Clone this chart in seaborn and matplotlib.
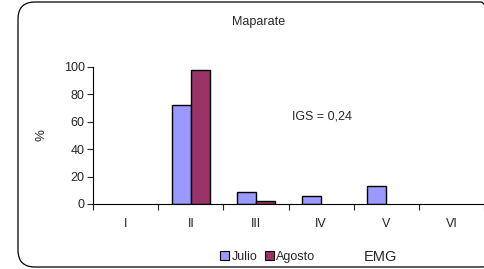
import numpy as np
import pandas as pd
import matplotlib
matplotlib.use("Agg")
import matplotlib.pyplot as plt
from matplotlib.patches import FancyBboxPatch, Patch
import seaborn as sns

# ── Data ──────────────────────────────────────────────────────────────────────
stages = ["I", "II", "III", "IV", "V", "VI"]
julio = [0, 72, 9, 5.5, 13, 0]
agosto = [0, 98, 2, 0, 0, 0]
months = ["Julio", "Agosto"]

df = pd.DataFrame({
    "EMG": stages * 2,
    "pct": julio + agosto,
    "mes": [months[0]] * len(stages) + [months[1]] * len(stages),
})

palette = {"Julio": "#9999FF", "Agosto": "#993366"}

sns.set_style("white")
plt.rcParams["font.family"] = ["Liberation Sans", "DejaVu Sans"]

fig = plt.figure(figsize=(4.85, 2.69), dpi=100)
ax = fig.add_axes([0.192, 0.242, 0.806, 0.509])

sns.barplot(
    data=df, x="EMG", y="pct", hue="mes", order=stages, hue_order=months,
    palette=palette, width=0.58, edgecolor="black", linewidth=1.0,
    saturation=1, legend=False, ax=ax,
)
# empty bars should not show an outline
for p in ax.patches:
    if p.get_height() == 0:
        p.set_linewidth(0)

ax.set_xlim(-0.5, len(stages) - 0.5)
ax.set_ylim(0, 100)
ax.set_yticks(np.arange(0, 101, 20))
ax.tick_params(axis="y", labelsize=9, length=4, width=0.8, direction="out", pad=2, left=True)

# tick marks at category boundaries, labels at centres
ax.set_xticks(np.arange(-0.5, len(stages), 1))
ax.set_xticklabels([""] * (len(stages) + 1))
ax.set_xticks(np.arange(len(stages)), minor=True)
ax.set_xticklabels(stages, minor=True)
ax.tick_params(axis="x", which="major", length=4, width=0.8, direction="out", bottom=True)
ax.tick_params(axis="x", which="minor", length=0, labelsize=9, pad=10)

ax.set_xlabel("")
ax.set_ylabel("%", fontsize=9.5, labelpad=12)
for s in ["top", "right"]:
    ax.spines[s].set_visible(False)
for s in ["left", "bottom"]:
    ax.spines[s].set_color("black")
    ax.spines[s].set_linewidth(0.8)

ax.text(3.02, 64, "IGS = 0,24", fontsize=9, ha="center", va="center")

fig.text(0.534, 0.92, "Maparate", fontsize=9, ha="center", va="center")
fig.text(0.784, 0.045, "EMG", fontsize=10.5, ha="center", va="center")

handles = [Patch(facecolor=palette[m], edgecolor="black", linewidth=0.8, label=m) for m in months]
fig.legend(handles=handles, loc="center", bbox_to_anchor=(0.552, 0.045), ncol=2,
           frameon=False, fontsize=9, handlelength=0.7, handleheight=0.7,
           handletextpad=0.2, columnspacing=0.6, borderpad=0)

frame = FancyBboxPatch((18 / 485, 2 / 269), 480 / 485, 265 / 269,
                       boxstyle="round,pad=0,rounding_size=0.035",
                       transform=fig.transFigure, facecolor="none",
                       edgecolor="black", linewidth=0.9, mutation_aspect=485 / 269)
fig.patches.append(frame)

fig.savefig("out.png", dpi=100)
